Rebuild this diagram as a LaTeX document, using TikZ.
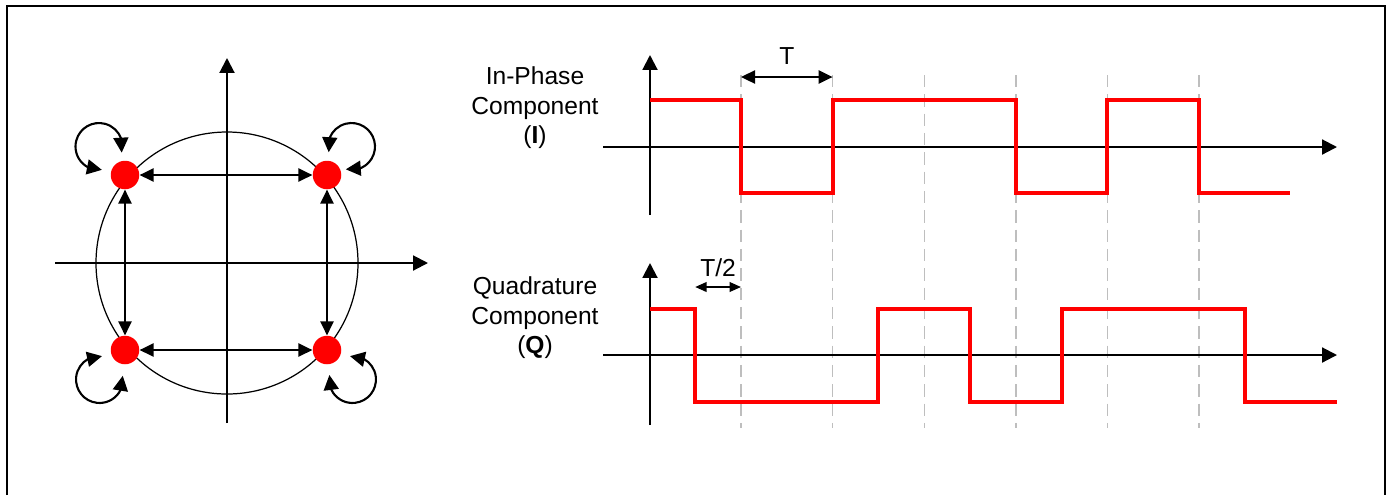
\documentclass[tikz,border=0pt]{standalone}
\usepackage{fontspec}
\setmainfont{Liberation Sans}
\usepackage{tikz}
\usetikzlibrary{arrows.meta, bending, positioning}
\definecolor{Mirojo}{RGB}{255,0,0}
\definecolor{Migris}{RGB}{190,190,190}

\begin{document}
\begin{tikzpicture}[
  x=0.02cm, y=-0.02cm,
  >={Triangle[length=8pt, width=7.5pt]},
  every node/.style={font=\fontsize{14}{16.8}\selectfont},
  simbolo/.style={
    circle, fill=Mirojo, draw=none,
    minimum size=0.57cm, inner sep=0pt
  },
  eje/.style={-{Triangle[length=8.5pt, width=8.5pt]}, line width=1.2pt},
  flecha/.style={<->, line width=1.2pt},
  bucle/.style={{Triangle[length=8.5pt, width=8.5pt, flex]}-{Triangle[length=8.5pt, width=8.5pt, flex]}, line width=1.2pt},
  onda/.style={line width=2.3pt, color=Mirojo, line join=miter},
  rejilla/.style={line width=0.8pt, color=Migris, dash pattern=on 7pt off 4pt},
  cota/.style={<->, line width=1.1pt},
  cotachica/.style={<->, line width=1pt, >={Triangle[length=6.5pt, width=5.5pt]}},
  etiq/.style={align=center}
]
  \useasboundingbox (0,0) rectangle (1389,495);

  % --- Marco ---
  \draw[line width=1.1pt] (7,495) -- (7,6) -- (1385,6) -- (1385,495);

  % --- Constelacion ---
  \draw[line width=0.7pt] (227,263) circle[radius=131];
  \draw[eje] (227,423) -- (227,58);
  \draw[eje] (55,263) -- (428,263);

  \node[simbolo] (s1) at (125,175) {};
  \node[simbolo] (s2) at (327,175) {};
  \node[simbolo] (s3) at (125,350) {};
  \node[simbolo] (s4) at (327,350) {};

  \draw[flecha] (s1) -- (s2);
  \draw[flecha] (s3) -- (s4);
  \draw[flecha] (s1) -- (s3);
  \draw[flecha] (s2) -- (s4);

  % bucles de cada simbolo
  \draw[bucle] ([shift={(-3.3,-22.4)}]s1.center) arc[start angle=15, end angle=-277, radius=23.5];
  \draw[bucle] ([shift={(1.7,-22.8)}]s2.center) arc[start angle=166, end angle=464, radius=23.5];
  \draw[bucle] ([shift={(-23,6.1)}]s3.center) arc[start angle=-84, end angle=-369, radius=23.5];
  \draw[bucle] ([shift={(23,6.1)}]s4.center) arc[start angle=264, end angle=551, radius=23.5];

  % --- Rejilla de simbolos ---
  \foreach \k in {0,...,5}
    \draw[rejilla] ({741+91.6*\k},75) -- ({741+91.6*\k},428);

  % --- Componente I ---
  \node[etiq] (iphase) at (535,108) {In-Phase\\Component\\(\textbf{I})};
  \draw[eje] (650,215) -- (650,55);
  \draw[eje] (603,147) -- (1337,147);
  \draw[onda] (650,100) -- (741,100) -- (741,193) -- (832.6,193) -- (832.6,100)
    -- (1015.8,100) -- (1015.8,193) -- (1107.4,193) -- (1107.4,100)
    -- (1199,100) -- (1199,193) -- (1290,193);

  \coordinate (ta) at (741,77);
  \coordinate (tb) at (832.6,77);
  \draw[cota] (ta) -- node[above=3pt]{T} (tb);

  % --- Componente Q ---
  \node[etiq] (quad) at (535,318) {Quadrature\\Component\\(\textbf{Q})};
  \draw[eje] (650,425) -- (650,263);
  \draw[eje] (603,355) -- (1337,355);
  \draw[onda] (650,309) -- (695.2,309) -- (695.2,402) -- (878.4,402) -- (878.4,309)
    -- (970,309) -- (970,402) -- (1061.6,402) -- (1061.6,309)
    -- (1244.8,309) -- (1244.8,402) -- (1337,402);

  \coordinate (ma) at (695.2,287);
  \coordinate (mb) at (741,287);
  \draw[cotachica] (ma) -- node[above=2pt]{T/2} (mb);
\end{tikzpicture}
\end{document}
